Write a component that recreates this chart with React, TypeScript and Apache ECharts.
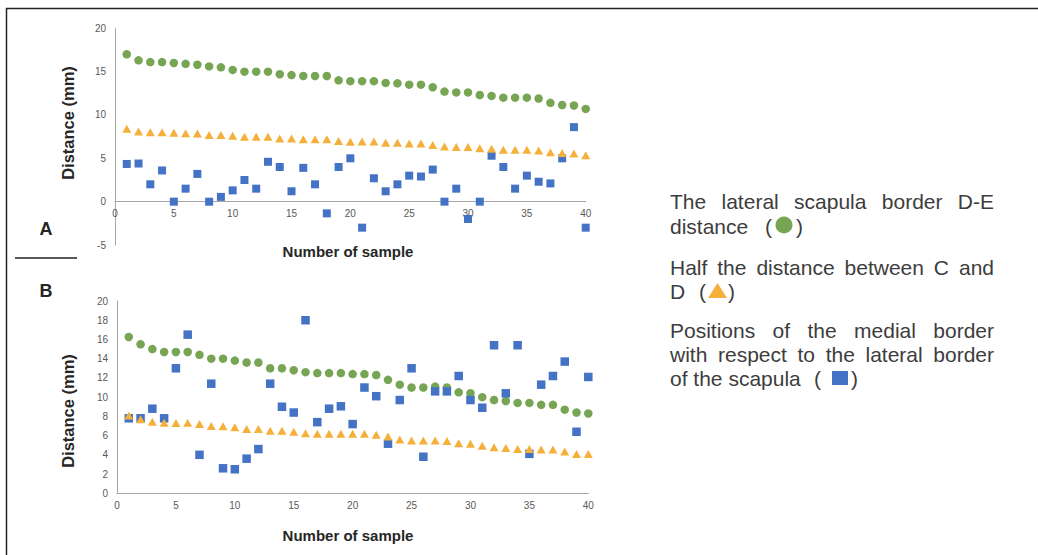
import React, { useEffect, useRef } from "react";
import * as echarts from "echarts";

// ---------- data ----------
const SAMPLE_NUMBERS = [
  1, 2, 3, 4, 5, 6, 7, 8, 9, 10, 11, 12, 13, 14, 15, 16, 17, 18, 19, 20,
  21, 22, 23, 24, 25, 26, 27, 28, 29, 30, 31, 32, 33, 34, 35, 36, 37, 38, 39, 40,
];

// Panel A
const A_LATERAL_DE = [
  17.0, 16.3, 16.1, 16.1, 16.0, 15.9, 15.8, 15.6, 15.5, 15.2, 15.0, 15.0, 15.0, 14.7, 14.6, 14.5, 14.5, 14.5, 14.0, 13.9,
  13.9, 13.9, 13.7, 13.65, 13.5, 13.5, 13.2, 12.7, 12.6, 12.6, 12.3, 12.2, 12.0, 12.0, 12.0, 11.9, 11.4, 11.15, 11.1, 10.7,
];
const A_HALF_CD = [
  8.4, 8.1, 8.0, 8.0, 7.95, 7.9, 7.85, 7.7, 7.7, 7.6, 7.5, 7.5, 7.5, 7.3, 7.3, 7.2, 7.2, 7.2, 7.0, 6.9,
  6.95, 6.95, 6.8, 6.8, 6.7, 6.7, 6.55, 6.35, 6.3, 6.3, 6.15, 6.1, 6.0, 6.0, 6.0, 5.9, 5.7, 5.6, 5.55, 5.35,
];
const A_MEDIAL = [
  4.35, 4.4, 2.0, 3.6, 0, 1.5, 3.2, 0, 0.55, 1.3, 2.5, 1.5, 4.6, 4.0, 1.2, 3.9, 2.0, -1.35, 4.0, 5.0,
  -3.0, 2.7, 1.2, 2.0, 3.0, 2.9, 3.7, 0, 1.5, -2.0, 0, 5.3, 4.0, 1.5, 3.0, 2.3, 2.1, 5.0, 8.6, -3.0,
];

// Panel B
const B_LATERAL_DE = [
  16.26, 15.5, 15.0, 14.7, 14.7, 14.7, 14.4, 14.0, 14.0, 13.8, 13.6, 13.6, 13.0, 13.0, 12.8, 12.6, 12.5, 12.5, 12.5, 12.4,
  12.4, 12.3, 11.8, 11.3, 11.0, 11.0, 11.1, 11.0, 10.5, 10.4, 10.0, 9.7, 9.6, 9.4, 9.4, 9.2, 9.2, 8.7, 8.4, 8.3,
];
const B_HALF_CD = [
  8.08, 7.7, 7.45, 7.35, 7.3, 7.35, 7.2, 7.0, 6.97, 6.86, 6.7, 6.7, 6.5, 6.5, 6.4, 6.25, 6.2, 6.2, 6.2, 6.2,
  6.2, 6.1, 5.9, 5.6, 5.5, 5.5, 5.5, 5.45, 5.2, 5.15, 4.95, 4.8, 4.7, 4.6, 4.6, 4.55, 4.55, 4.35, 4.1, 4.1,
];
const B_MEDIAL = [
  7.8, 7.8, 8.8, 7.8, 13.0, 16.5, 4.0, 11.4, 2.6, 2.5, 3.6, 4.6, 11.4, 9.0, 8.4, 18.0, 7.4, 8.8, 9.05, 7.2,
  11.0, 10.1, 5.16, 9.7, 13.0, 3.8, 10.6, 10.6, 12.2, 9.7, 8.9, 15.4, 10.4, 15.4, 4.1, 11.3, 12.2, 13.7, 6.4, 12.1,
];

const X_TICKS = { min: 0, max: 40, interval: 5 };
const A_Y_TICKS = { min: -5, max: 20, interval: 5 };
const B_Y_TICKS = { min: 0, max: 20, interval: 2 };

const X_AXIS_NAME = "Number of sample";
const Y_AXIS_NAME = "Distance (mm)";
const PANEL_LABELS = ["A", "B"];

const LEGEND_PARAGRAPHS = [
  ["The lateral scapula border D-E", "distance"],
  ["Half the distance between C and", "D"],
  ["Positions of the medial border", "with respect to the lateral border", "of the scapula"],
];

const GREEN = "#77a553";
const ORANGE = "#f5b03c";
const BLUE = "#4472c4";

const pairs = (ys: number[]) => ys.map((y, i) => [SAMPLE_NUMBERS[i], y]);

const LEG_FONT_SIZE = 21;
const LEG_FONT_FAMILY = "Liberation Sans";
const LEG_COLOR = "#3d3d3d";

function measure(text: string): number {
  const ctx = document.createElement("canvas").getContext("2d");
  if (!ctx) return text.length * LEG_FONT_SIZE * 0.5;
  ctx.font = `${LEG_FONT_SIZE}px "${LEG_FONT_FAMILY}"`;
  return ctx.measureText(text).width;
}

function legendText(text: string, x: number, y: number, align = "left") {
  return {
    type: "text",
    x,
    y,
    style: {
      text,
      fill: LEG_COLOR,
      fontSize: LEG_FONT_SIZE,
      fontFamily: LEG_FONT_FAMILY,
      align,
      verticalAlign: "middle",
    },
  };
}

function justifiedLine(text: string, left: number, right: number, y: number) {
  const words = text.split(" ");
  const widths = words.map(measure);
  const total = widths.reduce((a, b) => a + b, 0);
  const gap = (right - left - total) / (words.length - 1);
  const out: any[] = [];
  let x = left;
  words.forEach((w, i) => {
    out.push(legendText(w, x, y));
    x += widths[i] + gap;
  });
  return out;
}

const A_GRID = { left: 115, top: 28.3, width: 470.7, height: 216.7 };
const B_GRID = { left: 117, top: 301, width: 471.3, height: 192.3 };

export default function App() {
  const ref = useRef<HTMLDivElement>(null);

  useEffect(() => {
    if (!ref.current) return;
    const chart = echarts.init(ref.current, undefined, { renderer: "svg" });

    const axisLabel = { fontSize: 10, color: "#595959", fontFamily: "Liberation Sans" };
    const axisLine = { show: true, lineStyle: { color: "#a6a6a6", width: 1 } };

    // distance (px) from the bottom of panel A to its zero line
    const aZeroOffset =
      (A_GRID.height * (0 - A_Y_TICKS.min)) / (A_Y_TICKS.max - A_Y_TICKS.min);

    const makeX = (gridIndex: number, offset: number) => ({
      gridIndex,
      type: "value",
      ...X_TICKS,
      position: "bottom",
      offset,
      axisLine: { ...axisLine, onZero: false },
      axisTick: { show: false },
      splitLine: { show: false },
      axisLabel: { ...axisLabel, margin: 7 },
    });
    const makeY = (gridIndex: number, ticks: any) => ({
      gridIndex,
      type: "value",
      ...ticks,
      axisLine: { ...axisLine, onZero: false },
      axisTick: { show: false },
      splitLine: { show: false },
      axisLabel: { ...axisLabel, margin: 9 },
    });

    const scatter = (name: string, gi: number, ys: number[], symbol: string, size: any, color: string, z: number) => ({
      name,
      type: "scatter",
      xAxisIndex: gi,
      yAxisIndex: gi,
      data: pairs(ys),
      symbol,
      symbolSize: size,
      itemStyle: { color, opacity: 1 },
      z,
    });

    const L = 670;
    const R = 994;
    const legendGraphics: any[] = [
      ...justifiedLine(LEGEND_PARAGRAPHS[0][0], L, R, 201),
      legendText(LEGEND_PARAGRAPHS[0][1], L, 226),
      legendText("(", 765, 226),
      { type: "circle", shape: { cx: 784, cy: 225, r: 8.5 }, style: { fill: GREEN } },
      legendText(")", 796, 226),

      ...justifiedLine(LEGEND_PARAGRAPHS[1][0], L, R, 267),
      legendText(LEGEND_PARAGRAPHS[1][1], L, 291),
      legendText("(", 699, 291),
      {
        type: "polygon",
        shape: { points: [[708, 298], [727, 298], [717.5, 283]] },
        style: { fill: ORANGE },
      },
      legendText(")", 728, 291),

      ...justifiedLine(LEGEND_PARAGRAPHS[2][0], L, R, 330),
      ...justifiedLine(LEGEND_PARAGRAPHS[2][1], L, R, 354),
      legendText(LEGEND_PARAGRAPHS[2][2], L, 378),
      legendText("(", 814, 378),
      { type: "rect", shape: { x: 832, y: 371, width: 16, height: 14 }, style: { fill: BLUE } },
      legendText(")", 851, 378),
    ];

    const axisNameStyle = {
      fill: "#262626",
      fontSize: 15,
      fontWeight: "bold",
      fontFamily: "Liberation Sans",
      align: "center",
      verticalAlign: "middle",
    };
    const yNameStyle = { ...axisNameStyle, fontSize: 16.5 };

    const option: any = {
      animation: false,
      backgroundColor: "#ffffff",
      grid: [A_GRID, B_GRID],
      xAxis: [makeX(0, -aZeroOffset), makeX(1, 0)],
      yAxis: [makeY(0, A_Y_TICKS), makeY(1, B_Y_TICKS)],
      series: [
        scatter("A lateral D-E", 0, A_LATERAL_DE, "circle", 8.5, GREEN, 2),
        scatter("A medial", 0, A_MEDIAL, "rect", 8, BLUE, 3),
        scatter("A half C-D", 0, A_HALF_CD, "triangle", [9, 8], ORANGE, 4),
        scatter("B lateral D-E", 1, B_LATERAL_DE, "circle", 8.5, GREEN, 2),
        scatter("B medial", 1, B_MEDIAL, "rect", 8.5, BLUE, 3),
        scatter("B half C-D", 1, B_HALF_CD, "triangle", [9, 8], ORANGE, 4),
      ],
      graphic: [
        { type: "line", shape: { x1: 6, y1: 8.5, x2: 1038, y2: 8.5 }, style: { stroke: "#222", lineWidth: 1.5 } },
        { type: "line", shape: { x1: 6.5, y1: 8, x2: 6.5, y2: 555 }, style: { stroke: "#222", lineWidth: 1.5 } },
        { type: "line", shape: { x1: 15, y1: 258, x2: 77, y2: 258 }, style: { stroke: "#222", lineWidth: 1.5 } },
        {
          type: "text",
          x: 46,
          y: 229,
          style: { text: PANEL_LABELS[0], fill: "#262626", fontSize: 18, fontWeight: "bold", fontFamily: "Liberation Sans", align: "center", verticalAlign: "middle" },
        },
        {
          type: "text",
          x: 46,
          y: 291,
          style: { text: PANEL_LABELS[1], fill: "#262626", fontSize: 18, fontWeight: "bold", fontFamily: "Liberation Sans", align: "center", verticalAlign: "middle" },
        },
        { type: "text", x: 68, y: 123, rotation: Math.PI / 2, style: { text: Y_AXIS_NAME, ...yNameStyle } },
        { type: "text", x: 68, y: 411, rotation: Math.PI / 2, style: { text: Y_AXIS_NAME, ...yNameStyle } },
        { type: "text", x: 348, y: 251, style: { text: X_AXIS_NAME, ...axisNameStyle } },
        { type: "text", x: 348, y: 535, style: { text: X_AXIS_NAME, ...axisNameStyle } },
        ...legendGraphics,
      ],
    };

    chart.setOption(option);
    return () => chart.dispose();
  }, []);

  return (
    <div
      ref={ref}
      style={{ position: "fixed", left: 0, top: 0, width: 1038, height: 555, background: "#fff" }}
    />
  );
}
